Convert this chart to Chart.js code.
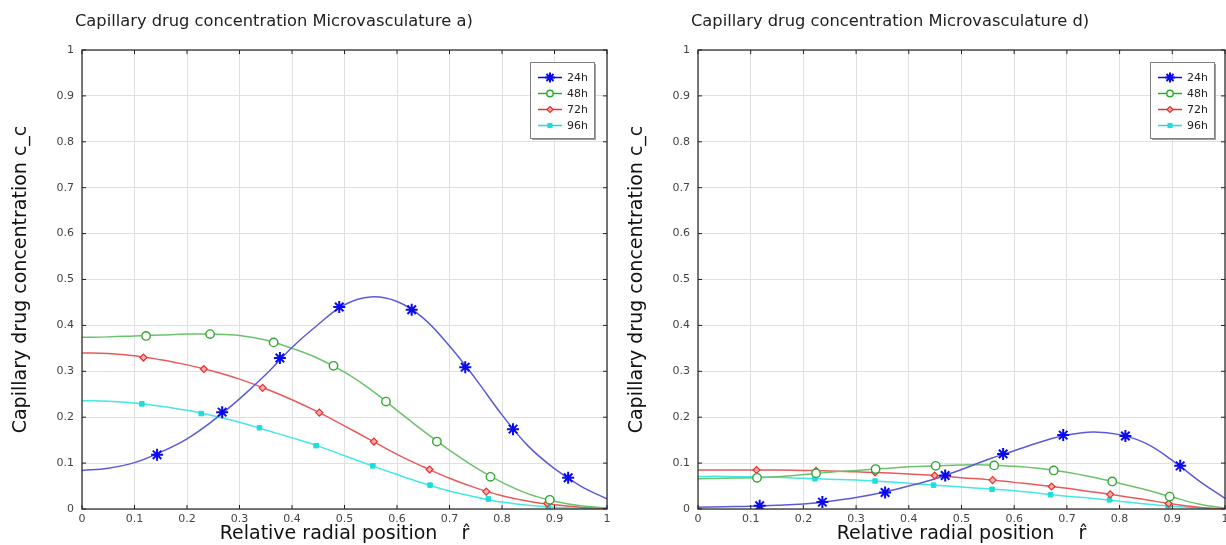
<!DOCTYPE html>
<html>
<head>
<meta charset="utf-8">
<script src="https://cdn.jsdelivr.net/npm/chart.js@4"></script>
<style>
body { margin: 0; background: #fff; width: 1226px; height: 545px; overflow: hidden; position: relative; }
canvas { position: absolute; top: 0; }
#chartA { left: 0; }
#chartD { left: 616px; }
</style>
</head>
<body>
<canvas id="chartA" width="615" height="545"></canvas>
<canvas id="chartD" width="617" height="545"></canvas>
<script>
// Data
const seriesNames = ['24h', '48h', '72h', '96h'];
const tickValues = [0, 0.1, 0.2, 0.3, 0.4, 0.5, 0.6, 0.7, 0.8, 0.9, 1];
const tickLabels = ['0', '0.1', '0.2', '0.3', '0.4', '0.5', '0.6', '0.7', '0.8', '0.9', '1'];

// radial positions where the curves were read
const radialGrid = [0, 0.05, 0.1, 0.15, 0.2, 0.25, 0.3, 0.35, 0.4, 0.45, 0.5,
                    0.55, 0.6, 0.65, 0.7, 0.75, 0.8, 0.85, 0.9, 0.95, 1];

// Microvasculature a)
const a24h = [0.084, 0.089, 0.101, 0.124, 0.153, 0.193, 0.240, 0.293, 0.352, 0.402, 0.445,
              0.462, 0.452, 0.416, 0.355, 0.283, 0.205, 0.137, 0.088, 0.050, 0.022];
const a48h = [0.374, 0.375, 0.377, 0.379, 0.381, 0.381, 0.378, 0.368, 0.350, 0.328, 0.298,
              0.260, 0.215, 0.170, 0.128, 0.090, 0.058, 0.033, 0.017, 0.007, 0.002];
const a72h = [0.340, 0.339, 0.334, 0.325, 0.314, 0.300, 0.283, 0.262, 0.238, 0.211, 0.181,
              0.150, 0.119, 0.092, 0.067, 0.046, 0.029, 0.017, 0.009, 0.004, 0.001];
const a96h = [0.236, 0.235, 0.231, 0.224, 0.215, 0.203, 0.189, 0.172, 0.155, 0.137, 0.116,
              0.095, 0.075, 0.056, 0.039, 0.026, 0.015, 0.008, 0.004, 0.002, 0.001];

const a24hMarkX = [0.143, 0.267, 0.377, 0.490, 0.628, 0.730, 0.821, 0.926];
const a24hMarkY = [0.118, 0.211, 0.329, 0.440, 0.434, 0.309, 0.174, 0.068];
const a48hMarkX = [0.122, 0.244, 0.365, 0.479, 0.579, 0.676, 0.778, 0.891];
const a48hMarkY = [0.377, 0.381, 0.363, 0.312, 0.234, 0.147, 0.070, 0.020];
const a72hMarkX = [0.117, 0.232, 0.344, 0.452, 0.556, 0.662, 0.770, 0.886];
const a72hMarkY = [0.330, 0.305, 0.264, 0.210, 0.147, 0.086, 0.038, 0.012];
const a96hMarkX = [0.114, 0.227, 0.338, 0.446, 0.554, 0.663, 0.774, 0.888];
const a96hMarkY = [0.229, 0.208, 0.177, 0.138, 0.094, 0.052, 0.022, 0.005];

// Microvasculature d)
const d24h = [0.004, 0.005, 0.006, 0.008, 0.011, 0.017, 0.025, 0.036, 0.050, 0.066, 0.086,
              0.108, 0.127, 0.146, 0.161, 0.168, 0.162, 0.143, 0.106, 0.062, 0.023];
const d48h = [0.066, 0.067, 0.068, 0.070, 0.075, 0.080, 0.084, 0.088, 0.092, 0.094, 0.096,
              0.096, 0.093, 0.088, 0.080, 0.069, 0.056, 0.042, 0.026, 0.011, 0.002];
const d72h = [0.085, 0.085, 0.085, 0.085, 0.084, 0.083, 0.081, 0.079, 0.076, 0.073, 0.068,
              0.064, 0.058, 0.052, 0.045, 0.037, 0.029, 0.020, 0.011, 0.004, 0.000];
const d96h = [0.071, 0.071, 0.070, 0.069, 0.067, 0.065, 0.063, 0.060, 0.056, 0.052, 0.048,
              0.044, 0.040, 0.034, 0.028, 0.023, 0.017, 0.011, 0.006, 0.002, 0.000];

const d24hMarkX = [0.117, 0.236, 0.355, 0.469, 0.579, 0.693, 0.811, 0.915];
const d24hMarkY = [0.007, 0.015, 0.036, 0.073, 0.120, 0.161, 0.159, 0.094];
const d48hMarkX = [0.112, 0.224, 0.337, 0.451, 0.562, 0.675, 0.786, 0.895];
const d48hMarkY = [0.068, 0.078, 0.087, 0.094, 0.095, 0.084, 0.060, 0.027];
const d72hMarkX = [0.111, 0.224, 0.336, 0.449, 0.559, 0.671, 0.782, 0.893];
const d72hMarkY = [0.085, 0.083, 0.080, 0.073, 0.063, 0.049, 0.032, 0.012];
const d96hMarkX = [0.110, 0.222, 0.336, 0.447, 0.558, 0.669, 0.781, 0.892];
const d96hMarkY = [0.069, 0.066, 0.061, 0.052, 0.043, 0.031, 0.020, 0.007];

// Styles per series
const lineColors = ['#5b5bd9', '#6cc26c', '#e85a5a', '#44e6e6'];
const markColors = ['#0a0aee', '#2fa82f', '#e83030', '#1fdcdc'];
const markFills = ['#0a0aee', '#ffffff', '#f7b0b0', '#1fdcdc'];
const markStyles = ['star', 'circle', 'rectRot', 'rect'];
const markRadius = [6, 4.2, 3.5, 3.2];
const markWidth = [2, 1.4, 1.2, 1];
const legendRadius = [5, 3.2, 3, 3];

Chart.defaults.font.family = "'DejaVu Sans', sans-serif";
Chart.defaults.color = '#444';

function toPoints(xs, ys) {
    return xs.map((x, i) => ({ x: x, y: ys[i] }));
}

// box, inner ticks, title and legend drawn on top of the plot
const framePlugin = {
    id: 'frame',
    afterDraw(chart, args, opts) {
        const ctx = chart.ctx;
        const area = chart.chartArea;
        const xs = chart.scales.x, ys = chart.scales.y;
        ctx.save();

        // title
        ctx.fillStyle = '#222';
        ctx.font = "16.3px 'DejaVu Sans'";
        ctx.textAlign = 'left';
        ctx.textBaseline = 'middle';
        ctx.fillText(opts.title, area.left - 7, 22);

        // border
        ctx.strokeStyle = '#222';
        ctx.lineWidth = 1.2;
        ctx.strokeRect(area.left, area.top, area.right - area.left, area.bottom - area.top);

        // inward ticks on every side
        ctx.lineWidth = 1;
        ctx.beginPath();
        tickValues.forEach(v => {
            const px = xs.getPixelForValue(v);
            const py = ys.getPixelForValue(v);
            ctx.moveTo(px, area.bottom); ctx.lineTo(px, area.bottom - 4);
            ctx.moveTo(px, area.top); ctx.lineTo(px, area.top + 4);
            ctx.moveTo(area.left, py); ctx.lineTo(area.left + 4, py);
            ctx.moveTo(area.right, py); ctx.lineTo(area.right - 4, py);
        });
        ctx.stroke();

        // legend box
        const w = 64, h = 76;
        const bx = area.right - opts.legendRight - w, by = area.top + 12;
        ctx.fillStyle = '#a0a0a0';
        ctx.fillRect(bx + 2, by + 2, w, h);
        ctx.fillStyle = '#fff';
        ctx.fillRect(bx, by, w, h);
        ctx.strokeStyle = '#808080';
        ctx.strokeRect(bx + 0.5, by + 0.5, w, h);

        ctx.font = "11px 'DejaVu Sans'";
        seriesNames.forEach((name, i) => {
            const cy = by + 15.5 + i * 16;
            ctx.strokeStyle = markColors[i];
            ctx.lineWidth = 1.5;
            ctx.beginPath();
            ctx.moveTo(bx + 8, cy); ctx.lineTo(bx + 32, cy);
            ctx.stroke();
            ctx.fillStyle = markFills[i];
            ctx.lineWidth = markWidth[i];
            Chart.helpers.drawPoint(ctx, {
                pointStyle: markStyles[i], radius: legendRadius[i], rotation: 0, borderWidth: markWidth[i]
            }, bx + 20, cy);
            ctx.fillStyle = '#222';
            ctx.fillText(name, bx + 37, cy + 0.5);
        });
        ctx.restore();
    }
};

function makeChart(id, title, legendRight, curves, markX, markY) {
    const datasets = [];
    curves.forEach((c, i) => {
        datasets.push({
            label: seriesNames[i],
            data: toPoints(radialGrid, c),
            borderColor: lineColors[i],
            borderWidth: 1.5,
            pointRadius: 0,
            tension: 0.4,
            order: 2
        });
        datasets.push({
            label: seriesNames[i] + ' markers',
            data: toPoints(markX[i], markY[i]),
            showLine: false,
            pointStyle: markStyles[i],
            pointRadius: markRadius[i],
            pointBorderWidth: markWidth[i],
            pointBorderColor: markColors[i],
            pointBackgroundColor: markFills[i],
            order: 1
        });
    });

    return new Chart(document.getElementById(id), {
        type: 'line',
        data: { datasets: datasets },
        options: {
            responsive: false,
            animation: false,
            layout: { padding: { top: 50, right: 0, left: 0, bottom: 0 } },
            plugins: {
                legend: { display: false },
                tooltip: { enabled: false },
                frame: { title: title, legendRight: legendRight }
            },
            scales: {
                x: {
                    type: 'linear',
                    min: 0, max: 1,
                    afterFit: s => { s.height = 36; },
                    afterBuildTicks: s => { s.ticks = tickValues.map(v => ({ value: v })); },
                    ticks: {
                        padding: 4,
                        maxRotation: 0,
                        autoSkip: false,
                        font: { size: 11 },
                        color: '#444',
                        callback: (v) => tickLabels[Math.round(v * 10)]
                    },
                    grid: { color: '#e0e0e0', drawTicks: false },
                    border: { display: false },
                    title: {
                        display: true,
                        text: 'Relative radial position    r\u0302',
                        font: { size: 19 },
                        color: '#111',
                        padding: { top: 0, bottom: 0 }
                    }
                },
                y: {
                    type: 'linear',
                    min: 0, max: 1,
                    afterFit: s => { s.width = 82; },
                    afterBuildTicks: s => { s.ticks = tickValues.map(v => ({ value: v })); },
                    ticks: {
                        padding: 8,
                        font: { size: 11 },
                        color: '#444',
                        callback: (v) => tickLabels[Math.round(v * 10)]
                    },
                    grid: { color: '#e0e0e0', drawTicks: false },
                    border: { display: false },
                    title: {
                        display: true,
                        text: 'Capillary drug concentration c_c',
                        font: { size: 19 },
                        color: '#111',
                        padding: { top: 10, bottom: 0 }
                    }
                }
            }
        },
        plugins: [framePlugin]
    });
}

makeChart('chartA', 'Capillary drug concentration Microvasculature a)', 13,
    [a24h, a48h, a72h, a96h],
    [a24hMarkX, a48hMarkX, a72hMarkX, a96hMarkX],
    [a24hMarkY, a48hMarkY, a72hMarkY, a96hMarkY]);

makeChart('chartD', 'Capillary drug concentration Microvasculature d)', 11,
    [d24h, d48h, d72h, d96h],
    [d24hMarkX, d48hMarkX, d72hMarkX, d96hMarkX],
    [d24hMarkY, d48hMarkY, d72hMarkY, d96hMarkY]);
</script>
</body>
</html>
